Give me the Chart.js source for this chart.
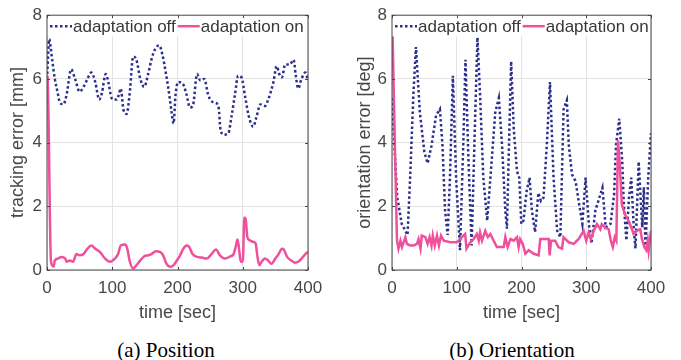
<!DOCTYPE html>
<html>
<head>
<meta charset="utf-8">
<script src="https://cdn.jsdelivr.net/npm/chart.js@4.4.1/dist/chart.umd.min.js"></script>
<style>
  html, body { margin: 0; padding: 0; background: #fff; }
  #wrap { position: relative; width: 681px; height: 360px; overflow: hidden; }
  .box { position: absolute; top: 0; height: 324px; }
  .cap {
    position: absolute; top: 338px; line-height: 24px; white-space: nowrap;
    font: 21px 'Liberation Serif', 'Times New Roman', serif; color: #000;
    transform: translateX(-50%);
  }
</style>
</head>
<body>
<div id="wrap">
  <div class="box" style="left:0;width:340px"><canvas id="posChart"></canvas></div>
  <div class="box" style="left:340px;width:341px"><canvas id="oriChart"></canvas></div>
  <div class="cap" style="left:166px">(a) Position</div>
  <div class="cap" style="left:512px">(b) Orientation</div>
</div>
<script>
const seriesNames = ['adaptation off', 'adaptation on']
const xTicks = [0, 100, 200, 300, 400]
const yTicks = [0, 2, 4, 6, 8]

// (a) position, adaptation off
const posOffTime = [0, 3.5, 5.5, 8, 12, 16, 20, 25, 30, 37, 43, 50, 56, 62, 68, 74, 80, 84, 90, 94, 99, 103, 107, 110, 113, 117, 122, 127, 132, 137, 143, 149, 155, 160, 166, 172, 177, 182, 186, 189, 191, 194, 197, 201, 208, 214, 219, 224, 230, 235, 241, 247, 252, 258, 263, 266, 271, 278, 283, 288, 293, 298, 304, 309, 316, 321, 327, 334, 339, 347, 352, 356, 360, 365, 372, 378, 381, 385, 390, 396, 400]
const posOffErr = [6.0, 7.25, 7.0, 6.6, 6.0, 5.6, 5.25, 5.2, 5.5, 6.3, 6.0, 5.6, 5.75, 6.0, 6.2, 5.9, 5.35, 5.55, 6.15, 5.9, 5.4, 5.35, 5.35, 5.5, 5.7, 5.05, 4.9, 5.6, 6.7, 6.6, 6.0, 5.75, 6.15, 6.6, 6.95, 7.05, 6.75, 6.2, 5.7, 5.25, 4.95, 4.6, 5.5, 5.9, 5.85, 5.5, 5.1, 5.2, 6.15, 5.95, 6.0, 5.5, 5.3, 5.25, 5.1, 4.4, 4.25, 4.3, 4.85, 5.5, 6.1, 6.05, 5.4, 4.85, 4.5, 4.8, 5.2, 5.15, 5.35, 5.9, 6.4, 6.15, 6.05, 6.45, 6.45, 6.6, 6.15, 5.7, 6.0, 6.2, 5.95]

// (a) position, adaptation on
const posOnTime = [0, 1, 6, 8, 10, 12, 17, 22, 28, 30, 35, 40, 45, 50, 56, 62, 68, 74, 81, 89, 97, 104, 109, 113, 120, 123, 127, 132, 137, 143, 149, 155, 160, 167, 173, 178, 183, 189, 194, 199, 204, 209, 214, 218, 223, 230, 237, 245, 252, 259, 265, 273, 281, 286, 289, 292, 294, 297, 300, 302.5, 304.5, 307, 311, 316, 320, 322, 325.5, 329, 334, 339, 344, 350, 355, 360, 363, 368, 375, 380, 385, 390, 396, 400]
const posOnErr = [6.1, 6.0, 0.3, 0.15, 0.1, 0.3, 0.36, 0.41, 0.36, 0.26, 0.3, 0.26, 0.5, 0.46, 0.5, 0.67, 0.77, 0.67, 0.57, 0.36, 0.26, 0.36, 0.5, 0.77, 0.8, 0.67, 0.26, 0.05, 0.15, 0.3, 0.43, 0.46, 0.5, 0.59, 0.57, 0.46, 0.2, 0.1, 0.15, 0.3, 0.46, 0.67, 0.77, 0.72, 0.5, 0.41, 0.39, 0.36, 0.5, 0.64, 0.46, 0.36, 0.43, 0.5, 0.72, 0.96, 0.72, 0.26, 0.26, 1.65, 1.6, 1.03, 0.93, 0.88, 0.82, 0.5, 0.15, 0.26, 0.36, 0.3, 0.2, 0.36, 0.5, 0.67, 0.64, 0.41, 0.29, 0.23, 0.26, 0.36, 0.5, 0.57]

// (b) orientation, adaptation off
const oriOffTime = [0, 4, 8, 15, 24, 28, 33, 37, 43, 50, 55, 61, 68, 74, 78, 82, 86, 89.5, 94, 99, 105, 110, 113.5, 118, 123, 128, 132, 136, 141, 147, 152, 159.5, 165, 170, 175, 177.5, 180, 184, 188, 193, 196.5, 199.7, 203, 208, 212.5, 216, 221, 226, 230, 234, 239, 244, 249.5, 255, 260, 265, 270, 273, 278, 283.5, 289, 294, 299, 304, 308, 314, 325, 330, 337.5, 343, 346, 351, 355.6, 358, 362, 366, 369.5, 373.6, 376, 381, 386.5, 389, 391.5, 395.7, 400]
const oriOffErr = [5.4, 3.8, 2.3, 1.45, 1.1, 2.9, 5.5, 7.0, 4.95, 3.7, 3.35, 3.9, 4.85, 5.05, 3.9, 1.85, 1.1, 2.9, 6.1, 2.9, 0.62, 3.9, 6.6, 3.5, 0.77, 4.5, 7.3, 5.5, 2.9, 1.55, 2.9, 4.95, 5.4, 3.9, 1.86, 1.3, 3.4, 6.55, 4.44, 3.1, 2.9, 1.45, 1.55, 2.48, 2.9, 1.86, 1.19, 2.42, 2.17, 2.27, 3.9, 5.9, 2.9, 1.24, 1.03, 5.05, 5.33, 3.93, 3.0, 2.79, 2.07, 1.45, 2.9, 1.45, 0.83, 1.86, 2.58, 1.34, 1.45, 2.37, 3.93, 4.75, 3.4, 2.07, 0.93, 2.27, 2.9, 1.24, 0.68, 3.4, 1.34, 2.6, 0.68, 2.9, 4.3]

// (b) orientation, adaptation on
const oriOnTime = [0, 1, 5, 7.7, 10, 13, 15.4, 20.6, 23, 28, 33.5, 38.6, 41, 44, 46, 51.5, 55, 58, 61, 63, 66, 69.5, 72.5, 75.7, 80, 90, 100, 108, 113, 115, 121, 126, 131, 134, 136, 139, 144, 148, 152, 157, 162, 167, 172.5, 175, 178.6, 183, 188, 193, 195.6, 198, 202, 206, 211, 219, 226.5, 229, 234, 242, 243.5, 245.6, 252, 257, 262.5, 265, 273, 280.6, 288, 296, 300, 303.7, 307, 311.5, 316.6, 321.7, 324, 329.5, 334.6, 338, 341, 344, 346.5, 349, 351.6, 355, 360, 365.5, 370.6, 373, 378, 383.5, 386, 389.7, 392.8, 395, 396.4, 400]
const oriOnErr = [7.33, 7.3, 3.4, 0.92, 0.67, 0.92, 0.72, 1.03, 0.82, 0.77, 0.77, 0.82, 0.97, 0.67, 1.08, 1.03, 0.82, 1.03, 0.77, 1.08, 0.77, 1.08, 0.77, 1.08, 0.92, 0.87, 0.87, 1.03, 1.13, 0.67, 0.87, 0.97, 1.13, 0.92, 1.18, 0.92, 1.23, 1.03, 1.13, 0.92, 0.72, 0.72, 0.72, 1.03, 0.72, 0.97, 0.92, 1.03, 0.72, 0.97, 0.82, 0.51, 0.62, 0.51, 0.46, 0.97, 0.97, 0.97, 0.46, 0.92, 0.92, 0.72, 0.67, 1.03, 0.87, 0.82, 0.97, 1.23, 0.92, 1.18, 0.97, 1.23, 1.44, 1.28, 1.44, 1.33, 1.28, 0.92, 0.72, 1.03, 0.92, 4.07, 3.38, 2.05, 1.74, 1.54, 1.28, 1.13, 1.23, 1.28, 0.97, 0.72, 0.62, 0.92, 0.62, 1.23]

const navy = '#2b2e8a'
const pink = '#ef4f9b'
const axisColor = '#474747'
const fontFamily = "'Liberation Sans', Arial, Helvetica, sans-serif"

function toPoints(times, values) {
  return times.map((t, i) => ({ x: t, y: values[i] }))
}

// legend box inside the plot + MATLAB style frame with small inward ticks
const framePlugin = {
  id: 'frame',
  afterDatasetsDraw(chart) {
    const { ctx, chartArea: a, scales } = chart
    const sets = chart.data.datasets
    ctx.save()

    ctx.fillStyle = '#fff'
    ctx.fillRect(a.left, a.top, a.width, 21)
    ctx.font = '17px ' + fontFamily
    ctx.textBaseline = 'middle'
    let x = a.left + 3
    const y = a.top + 11
    sets.forEach((ds) => {
      ctx.strokeStyle = ds.borderColor
      ctx.lineWidth = ds.borderWidth
      ctx.setLineDash(ds.borderDash || [])
      ctx.beginPath()
      ctx.moveTo(x, y)
      ctx.lineTo(x + 22, y)
      ctx.stroke()
      ctx.setLineDash([])
      ctx.fillStyle = '#383838'
      ctx.fillText(ds.label, x + 23, y + 1)
      x += 23 + ctx.measureText(ds.label).width + 2
    })

    ctx.strokeStyle = axisColor
    ctx.lineWidth = 1
    ctx.strokeRect(a.left, a.top, a.width, a.height)
    ctx.beginPath()
    scales.x.ticks.forEach((t) => {
      const px = Math.round(scales.x.getPixelForValue(t.value)) + 0.5
      ctx.moveTo(px, a.bottom); ctx.lineTo(px, a.bottom - 3)
      ctx.moveTo(px, a.top); ctx.lineTo(px, a.top + 3)
    })
    scales.y.ticks.forEach((t) => {
      const py = Math.round(scales.y.getPixelForValue(t.value)) + 0.5
      ctx.moveTo(a.left, py); ctx.lineTo(a.left + 3, py)
      ctx.moveTo(a.right, py); ctx.lineTo(a.right - 3, py)
    })
    ctx.stroke()
    ctx.restore()
  },
}

function makeChart(id, offPts, onPts, opts) {
  const ctx = document.getElementById(id).getContext('2d')
  return new Chart(ctx, {
    type: 'line',
    data: {
      datasets: [
        {
          label: seriesNames[0],
          data: offPts,
          borderColor: navy,
          borderWidth: 2.5,
          borderDash: [2.5, 2.5],
          pointRadius: 0,
          tension: opts.smooth ? 0.4 : 0,
          cubicInterpolationMode: opts.smooth ? 'monotone' : 'default',
          order: 1,
        },
        {
          label: seriesNames[1],
          data: onPts,
          borderColor: pink,
          borderWidth: 2.5,
          pointRadius: 0,
          tension: opts.smooth ? 0.4 : 0,
          cubicInterpolationMode: opts.smooth ? 'monotone' : 'default',
          order: 0,
        },
      ],
    },
    options: {
      responsive: true,
      maintainAspectRatio: false,
      animation: false,
      layout: { padding: { top: 11.5, right: opts.right, left: 0, bottom: 0 } },
      plugins: { legend: { display: false }, tooltip: { enabled: false } },
      scales: {
        x: {
          type: 'linear',
          min: 0,
          max: 400,
          afterBuildTicks: (s) => { s.ticks = xTicks.map((v) => ({ value: v })) },
          afterFit: (s) => { s.height = 54 },
          grid: { color: '#e3e3e3', drawTicks: false },
          border: { display: false },
          ticks: { padding: 8, color: axisColor, font: { size: 17, family: fontFamily } },
          title: {
            display: true,
            text: 'time [sec]',
            color: axisColor,
            padding: { top: 0, bottom: 0 },
            font: { size: 18, family: fontFamily },
          },
        },
        y: {
          min: 0,
          max: 8,
          afterBuildTicks: (s) => { s.ticks = yTicks.map((v) => ({ value: v })) },
          afterFit: (s) => { s.width = opts.left },
          grid: { color: '#e3e3e3', drawTicks: false },
          border: { display: false },
          ticks: { padding: 5, color: axisColor, font: { size: 17, family: fontFamily } },
          title: {
            display: true,
            text: opts.yTitle,
            color: axisColor,
            padding: { top: opts.titlePad, bottom: 0 },
            font: { size: 18, family: fontFamily },
          },
        },
      },
    },
    plugins: [framePlugin],
  })
}

makeChart('posChart', toPoints(posOffTime, posOffErr), toPoints(posOnTime, posOnErr), {
  yTitle: 'tracking error [mm]', left: 47, right: 32, titlePad: 7, smooth: true,
})
makeChart('oriChart', toPoints(oriOffTime, oriOffErr), toPoints(oriOnTime, oriOnErr), {
  yTitle: 'orientation error [deg]', left: 52, right: 30, titlePad: 14, smooth: false,
})
</script>
</body>
</html>
